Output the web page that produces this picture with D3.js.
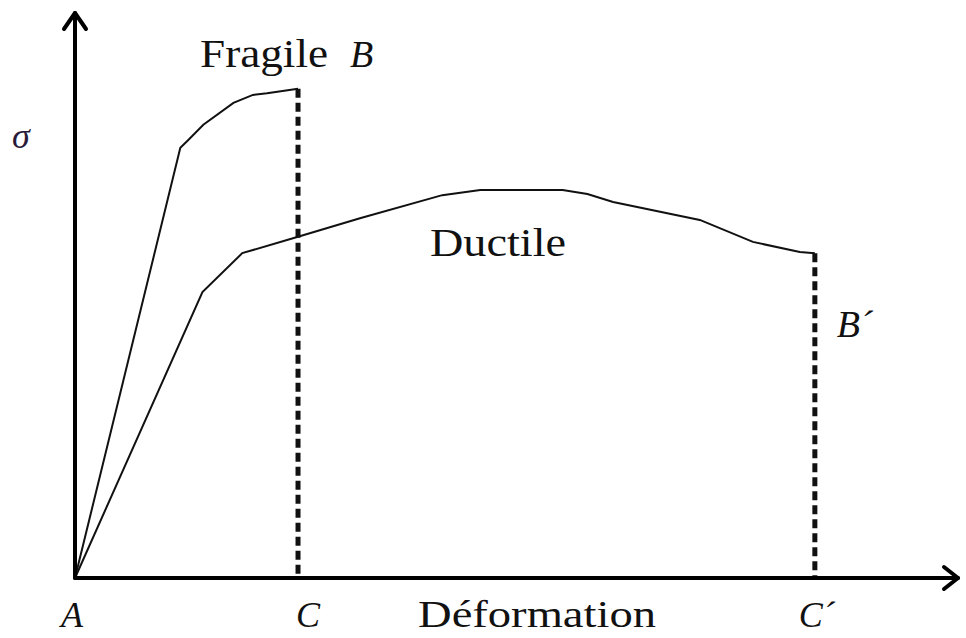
<!DOCTYPE html>
<html>
<head>
<meta charset="utf-8">
<script src="https://cdn.jsdelivr.net/npm/d3@7"></script>
<style>
  html, body { margin: 0; padding: 0; background: #fff; }
  svg { display: block; }
  text { font-family: "Liberation Serif", "DejaVu Serif", serif; fill: #111; }
</style>
</head>
<body>
<div id="chart"></div>
<script>
// strain (x) / stress (y), arbitrary units
const fragileStrain = [0, 1.19, 1.28, 1.45, 1.79, 2.01, 2.17, 2.52];
const fragileStress = [0, 7.64, 7.78, 8.05, 8.44, 8.58, 8.61, 8.69];

const ductileStrain = [0, 1.44, 1.89, 2.52, 3.22, 4.15, 4.58, 5.51, 5.79, 6.08, 7.06, 7.66, 8.19, 8.36];
const ductileStress = [0, 5.08, 5.77, 6.06, 6.39, 6.80, 6.89, 6.89, 6.82, 6.68, 6.36, 5.97, 5.79, 5.77];

const xMax = 10;
const yMax = 10;

const width = 966;
const height = 638;
const margin = { top: 15, right: 6, bottom: 60, left: 75 };

const x = d3.scaleLinear().domain([0, xMax]).range([margin.left, width - margin.right]);
const y = d3.scaleLinear().domain([0, yMax]).range([height - margin.bottom, margin.top]);

const fragile = fragileStrain.map((d, i) => ({ x: d, y: fragileStress[i] }));
const ductile = ductileStrain.map((d, i) => ({ x: d, y: ductileStress[i] }));
const fragileEnd = fragile[fragile.length - 1];
const ductileEnd = ductile[ductile.length - 1];

const svg = d3.select("#chart").append("svg")
  .attr("width", width)
  .attr("height", height)
  .attr("viewBox", [0, 0, width, height]);

const line = d3.line().x(d => x(d.x)).y(d => y(d.y));

// curves
svg.selectAll(".curve")
  .data([fragile, ductile])
  .join("path")
  .attr("class", "curve")
  .attr("fill", "none")
  .attr("stroke", "#111")
  .attr("stroke-width", 2)
  .attr("stroke-linejoin", "miter")
  .attr("d", line);

// rupture drops
svg.selectAll(".drop")
  .data([fragileEnd, ductileEnd])
  .join("line")
  .attr("class", "drop")
  .attr("x1", d => x(d.x))
  .attr("x2", d => x(d.x))
  .attr("y1", d => y(d.y))
  .attr("y2", y(0))
  .attr("stroke", "#111")
  .attr("stroke-width", 5)
  .attr("stroke-dasharray", "9,5");

// axes with open arrowheads
const axes = svg.append("g")
  .attr("fill", "none")
  .attr("stroke", "#000")
  .attr("stroke-width", 4)
  .attr("stroke-linecap", "round")
  .attr("stroke-linejoin", "round");

axes.append("path").attr("d", `M${x(0)},${y(0)}V${y(yMax) - 2}`);
axes.append("path").attr("d", `M${x(0)},${y(0)}H${x(xMax) - 2}`);
axes.append("path")
  .attr("d", `M${x(0) - 11},${y(yMax) + 14}L${x(0)},${y(yMax) - 2}L${x(0) + 11},${y(yMax) + 14}`);
axes.append("path")
  .attr("d", `M${x(xMax) - 16},${y(0) - 11}L${x(xMax) - 2},${y(0)}L${x(xMax) - 16},${y(0) + 11}`);

// labels
const label = (tx, ty, str, opts = {}) => {
  const t = svg.append("text")
    .attr("x", tx)
    .attr("y", ty)
    .attr("font-size", opts.size || 36)
    .attr("font-style", opts.italic ? "italic" : "normal")
    .text(str);
  if (opts.len) t.attr("textLength", opts.len).attr("lengthAdjust", "spacingAndGlyphs");
  if (opts.fill) t.style("fill", opts.fill);
  return t;
};

label(200, 67, "Fragile", { len: 128, size: 40 });
label(350, 67, "B", { italic: true, size: 38 });
label(430, 256, "Ductile", { len: 136, size: 40 });
label(x(ductileEnd.x) + 22, 337, "B\u00b4", { italic: true, size: 38 });
label(12, 148, "\u03c3", { italic: true, size: 36, fill: "#2a1a3a" });
label(x(0) - 14, 627, "A", { italic: true });
label(x(fragileEnd.x) - 2, 627, "C", { italic: true });
label(418, 627, "D\u00e9formation", { len: 238, size: 37 });
label(x(ductileEnd.x) - 16, 627, "C\u00b4", { italic: true });
</script>
</body>
</html>
